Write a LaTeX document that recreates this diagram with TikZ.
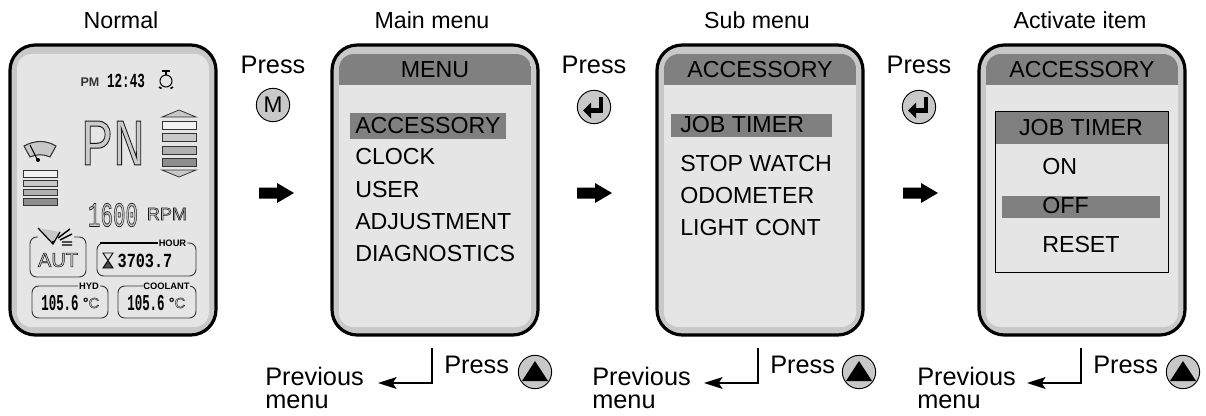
\documentclass[tikz,border=0pt]{standalone}
\usepackage{fontspec}
\setmainfont{Liberation Sans}
\newfontfamily\lcdfont{Liberation Mono}
\definecolor{rimgray}{HTML}{C8C8C8}
\definecolor{facegray}{HTML}{E5E5E5}
\definecolor{headgray}{HTML}{808080}
\definecolor{lcdA}{HTML}{F2F2F2}
\definecolor{lcdB}{HTML}{C8C8C8}
\definecolor{lcdC}{HTML}{B0B0B0}
\definecolor{lcdD}{HTML}{8E8E8E}
\newcommand\hollowtext[2]{\special{pdf:code 2 Tr #1 w 0.8 g 0.1 G}#2\special{pdf:code 0 Tr 0 g 0 G}}
\newcommand\sz[1]{\fontsize{#1}{#1}\selectfont}
\tikzset{
  x=0.75pt,y=-0.75pt,
  panel/.style={draw=black,line width=2.4pt,fill=rimgray,rounded corners=19pt,minimum width=154.5pt,minimum height=217.5pt,inner sep=0pt},
  face/.style={fill=facegray,rounded corners=11pt},
  title/.style={font=\sz{17.4},inner sep=0pt},
  presstxt/.style={font=\sz{19},inner sep=0pt},
  item/.style={font=\sz{17.4},inner sep=0pt,anchor=west},
  head/.style={font=\sz{17.4},inner sep=0pt},
  btn/.style={circle,draw=black,line width=0.7pt,fill=rimgray,minimum size=25pt,inner sep=0pt},
  prev/.style={font=\sz{19},inner sep=0pt,anchor=base west},
  lcdrow/.style={draw=black!80,line width=0.6pt},
  lcdbox/.style={draw=black!80,line width=0.7pt,rounded corners=5pt},
  lcdlabel/.style={font=\bfseries\sz{7},inner sep=0.5pt,fill=facegray},
}
\newcommand\screen[2]{%
  \node[panel] (#1) at (#2+103,190) {};
  \fill[face] (#2+7,54) rectangle (#2+199,327);
}
\newcommand\menuhead[3]{%
  \begin{scope}
    \clip[rounded corners=11pt] (#2+7,54) rectangle (#2+199,327);
    \fill[headgray] (#2+7,54) rectangle (#2+199,85);
  \end{scope}
  \node[head] (#1) at (#2+103,70) {#3};
}
\newcommand\bigarrow[2]{%
  \fill[black] (#1,#2-5.5) -- (#1+18,#2-5.5) -- (#1+18,#2-10) -- (#1+35,#2) -- (#1+18,#2+10) -- (#1+18,#2+5.5) -- (#1,#2+5.5) -- cycle;
}
\tikzset{
  enterglyph/.pic={
    \draw[line width=3.2pt,line join=miter] (7,-10) -- (7,3.5) -- (-4,3.5);
    \fill (-11,3.5) -- (-3,-4.5) -- (-3,11.5) -- cycle;
  },
  upglyph/.pic={\fill (0,-11) -- (13,9) -- (-13,9) -- cycle;}
}
\newcommand\backpath[4]{% name suffix, line x, text x, button x
  \coordinate (top#1) at (#2,348);
  \coordinate (corner#1) at (#2,383);
  \coordinate (tip#1) at (#2-54,383);
  \draw[line width=1.5pt] (top#1) -- (corner#1) -- ([xshift=11pt]tip#1);
  \fill (tip#1) -- ([xshift=14pt,yshift=4.5pt]tip#1) -- ([xshift=11pt]tip#1) -- ([xshift=14pt,yshift=-4.5pt]tip#1) -- cycle;
  \node[presstxt,anchor=base west] (press#1) at (#2+12,373) {Press};
  \node[btn] (up#1) at (#4,372) {};
  \pic at (up#1) {upglyph};
  \node[prev] (prevA#1) at (#3,385) {Previous};
  \node[prev] (prevB#1) at (#3,408) {menu};
}
\begin{document}
\begin{tikzpicture}
\useasboundingbox (0,0) rectangle (1206,415);
\fill[white] (0,0) rectangle (1206,415);

% titles
\node[title] (t1) at (121,20) {Normal};
\node[title] (t2) at (432,20) {Main menu};
\node[title] (t3) at (757,20) {Sub menu};
\node[title] (t4) at (1080,20) {Activate item};

% panels
\screen{lcd}{10}
\screen{main}{332}
\screen{sub}{657}
\screen{act}{979}
\menuhead{h2}{332}{MENU}
\menuhead{h3}{657}{ACCESSORY}
\menuhead{h4}{979}{ACCESSORY}

% main menu
\fill[headgray] (350,113) rectangle (506,139);
\node[item] (m1) at (355,126) {ACCESSORY};
\node[item] (m2) at (355,157) {CLOCK};
\node[item] (m3) at (355,190) {USER};
\node[item] (m4) at (355,222) {ADJUSTMENT};
\node[item] (m5) at (355,254) {DIAGNOSTICS};

% sub menu
\fill[headgray] (671,114) rectangle (832,137);
\node[item] (s1) at (680,125) {JOB TIMER};
\node[item] (s2) at (680,164) {STOP WATCH};
\node[item] (s3) at (680,196) {ODOMETER};
\node[item] (s4) at (680,228) {LIGHT CONT};

% activate item
\fill[headgray] (995,111) rectangle (1168,144);
\draw[black,line width=0.7pt] (995,111) rectangle (1168,272);
\fill[headgray] (1002,196) rectangle (1160,218);
\node[head] (a0) at (1081,128) {JOB TIMER};
\node[item] (a1) at (1042,167) {ON};
\node[item] (a2) at (1042,206) {OFF};
\node[item] (a3) at (1042,245) {RESET};

% press + buttons
\node[presstxt] (p1) at (273,65) {Press};
\node[presstxt] (p2) at (594,65) {Press};
\node[presstxt] (p3) at (919,65) {Press};
\node[btn,font=\sz{17}] (b1) at (273,105) {M};
\node[btn] (b2) at (594,107) {};
\node[btn] (b3) at (919,107) {};
\pic at (b2) {enterglyph};
\pic at (b3) {enterglyph};
\bigarrow{259}{193}
\bigarrow{577}{193}
\bigarrow{903}{193}

% return paths
\backpath{A}{432}{265}{535}
\backpath{B}{758}{592}{859}
\backpath{C}{1081}{917}{1183}

% ---- LCD contents ----
\node[font=\bfseries\sz{9.4},text=black!80,inner sep=0pt] (pm) at (90,82) {PM};
\node[font=\lcdfont\bfseries\sz{15},inner sep=0pt,xscale=.63] (clk) at (126,81) {12:43};
% clock icon
\draw[line width=0.8pt] (166,81) circle[radius=6];
\draw[line width=1.2pt] (162,71) -- (170,71);
\draw[line width=1pt] (166,71) -- (166,75);
\draw[line width=1.2pt] (159,87) -- (161.5,88.5) (173,87) -- (170.5,88.5);
% PN
\node[font=\lcdfont\sz{50},inner sep=0pt,xscale=.8] (gear) at (113,143) {\hollowtext{0.75}{PN}};
% level bars, right
\draw[lcdrow,fill=lcdB] (162,117) -- (179,110) -- (196,117) -- cycle;
\draw[lcdrow,fill=lcdA] (162,121) rectangle (196,129);
\draw[lcdrow,fill=lcdB] (162,133) rectangle (196,141);
\draw[lcdrow,fill=lcdC] (162,146) rectangle (196,154);
\draw[lcdrow,fill=lcdD] (162,158) rectangle (196,166);
\draw[lcdrow,fill=lcdB] (162,170) -- (196,170) -- (179,177) -- cycle;
% gauge
\draw[lcdrow,fill=lcdB,line width=0.8pt] (24,146) .. controls (35,140) and (46,140) .. (56,146) -- (50,157) .. controls (44,154) and (36,154) .. (30,157) -- cycle;
\draw[line width=0.7pt] (30,145) -- (37,159);
\fill (38,160) circle[radius=2];
% level bars, left
\draw[lcdrow,fill=lcdA] (23,170) rectangle (57,177);
\draw[lcdrow,fill=lcdB] (23,180) rectangle (57,186);
\draw[lcdrow,fill=lcdC] (23,189) rectangle (57,195);
\draw[lcdrow,fill=lcdD] (23,198) rectangle (57,205);
% rpm
\node[font=\lcdfont\sz{26},inner sep=0pt,xscale=.6] (rpmv) at (113,215) {\hollowtext{0.55}{1600}};
\node[font=\sz{13.5},inner sep=0pt] (rpm) at (167,214) {\hollowtext{0.4}{RPM}};
% AUT box
\draw[lcdbox] (30,237) rectangle (86,277);
\fill[facegray] (38,232) rectangle (74,240);
\draw[line width=0.9pt,fill=lcdB] (38,228) -- (53,244) -- (60,232);
\fill (53,242) circle[radius=1.4];
\draw[line width=1.1pt] (58,238) -- (70,229) (60,240) -- (72,234) (62,242) -- (72,242) (62,245) -- (72,245);
\node[font=\sz{15},inner sep=0pt] (aut) at (58,260) {\hollowtext{0.4}{AUT}};
% HOUR box
\draw[lcdbox] (97,276) rectangle (196,243);
\draw[line width=1.3pt] (100,243) -- (160,243);
\node[lcdlabel] (hour) at (172.5,243) {HOUR};
\fill[black!70] (103,268) -- (113,268) -- (108,260.5) -- cycle;
\draw[line width=0.7pt] (103,253) -- (113,253) -- (103,268) -- (113,268) -- cycle;
\node[font=\lcdfont\bfseries\sz{15},inner sep=0pt,xscale=.76] (hv) at (145,261) {3703.7};
% HYD box
\draw[lcdbox] (32,318) rectangle (108,286);
\node[lcdlabel] (hyd) at (89,286) {HYD};
\node[font=\lcdfont\bfseries\sz{17},inner sep=0pt,xscale=.55] (hv1) at (60,303) {105.6};
\node[font=\sz{11},inner sep=0pt] (c1) at (91,303) {\hollowtext{0.3}{°C}};
% COOLANT box
\draw[lcdbox] (118,318) rectangle (196,286);
\node[lcdlabel] (cool) at (166.5,286) {COOLANT};
\node[font=\lcdfont\bfseries\sz{17},inner sep=0pt,xscale=.55] (hv2) at (146,303) {105.6};
\node[font=\sz{11},inner sep=0pt] (c2) at (177,303) {\hollowtext{0.3}{°C}};
\end{tikzpicture}
\end{document}
